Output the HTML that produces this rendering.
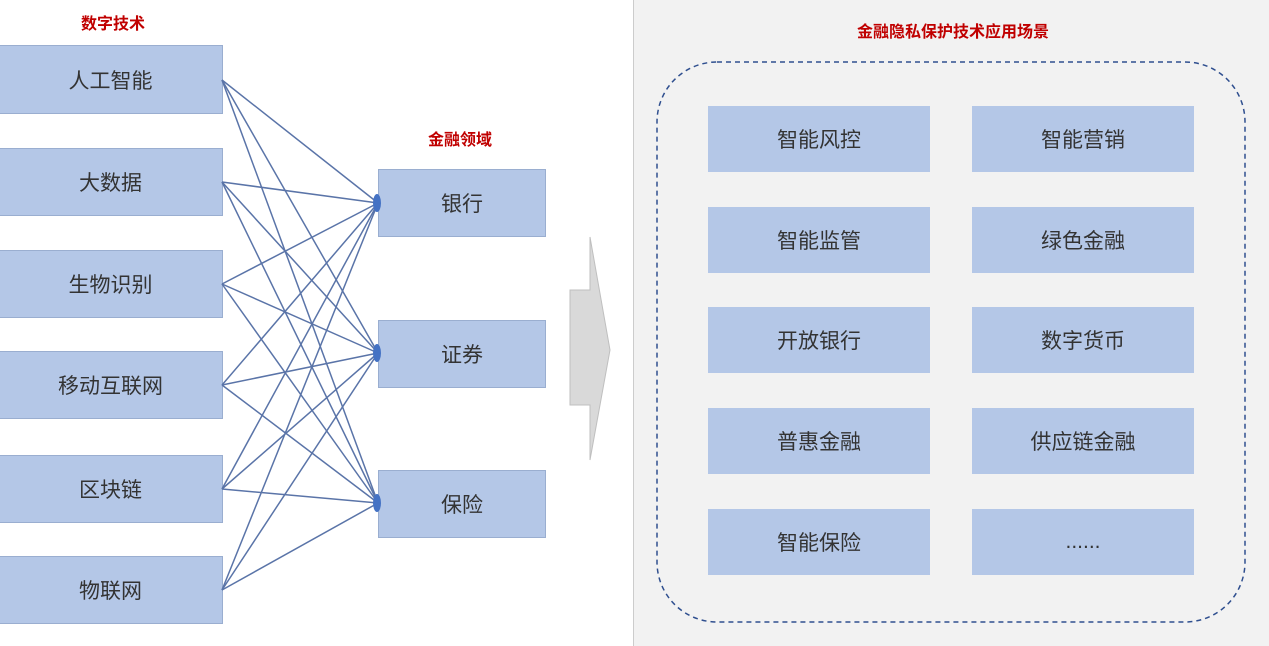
<!DOCTYPE html>
<html><head><meta charset="utf-8"><style>
body{margin:0;width:1269px;height:646px;background:#fff;position:relative;overflow:hidden;font-family:"Liberation Sans","Noto Sans CJK SC",sans-serif}
.b{position:absolute;background:#b4c7e7;border:1px solid #9aaed0;box-sizing:border-box;display:flex;align-items:center;justify-content:center;font-size:21px;color:#333}
.g{position:absolute;background:#b4c7e7;display:flex;align-items:center;justify-content:center;font-size:21px;color:#333;width:222px;height:66px}
.t{position:absolute;color:#c00000;font-weight:bold;font-size:16px;transform:translateX(-50%);white-space:nowrap}
</style></head><body>
<div style="position:absolute;left:633px;top:0;width:636px;height:646px;background:#f2f2f2;border-left:1px solid #ccc"></div>
<div class="t" style="left:113px;top:10px">数字技术</div>
<div class="t" style="left:460px;top:126px">金融领域</div>
<div class="t" style="left:953px;top:18px">金融隐私保护技术应用场景</div>
<div class="b" style="left:-2px;top:45px;width:225px;height:69px">人工智能</div>
<div class="b" style="left:-2px;top:148px;width:225px;height:68px">大数据</div>
<div class="b" style="left:-2px;top:250px;width:225px;height:68px">生物识别</div>
<div class="b" style="left:-2px;top:351px;width:225px;height:68px">移动互联网</div>
<div class="b" style="left:-2px;top:455px;width:225px;height:68px">区块链</div>
<div class="b" style="left:-2px;top:556px;width:225px;height:68px">物联网</div>
<div class="b" style="left:378px;top:169px;width:168px;height:68px">银行</div>
<div class="b" style="left:378px;top:320px;width:168px;height:68px">证券</div>
<div class="b" style="left:378px;top:470px;width:168px;height:68px">保险</div>
<svg style="position:absolute;left:0;top:0" width="1269" height="646">
<g stroke="#5a74a8" stroke-width="1.5">
<line x1="222" y1="80" x2="378" y2="203"/><line x1="222" y1="80" x2="378" y2="353"/><line x1="222" y1="80" x2="378" y2="503"/>
<line x1="222" y1="182" x2="378" y2="203"/><line x1="222" y1="182" x2="378" y2="353"/><line x1="222" y1="182" x2="378" y2="503"/>
<line x1="222" y1="284" x2="378" y2="203"/><line x1="222" y1="284" x2="378" y2="353"/><line x1="222" y1="284" x2="378" y2="503"/>
<line x1="222" y1="385" x2="378" y2="203"/><line x1="222" y1="385" x2="378" y2="353"/><line x1="222" y1="385" x2="378" y2="503"/>
<line x1="222" y1="489" x2="378" y2="203"/><line x1="222" y1="489" x2="378" y2="353"/><line x1="222" y1="489" x2="378" y2="503"/>
<line x1="222" y1="590" x2="378" y2="203"/><line x1="222" y1="590" x2="378" y2="353"/><line x1="222" y1="590" x2="378" y2="503"/>
</g>
<g fill="#4472c4"><ellipse cx="377" cy="203" rx="4" ry="9"/><ellipse cx="377" cy="353" rx="4" ry="9"/><ellipse cx="377" cy="503" rx="4" ry="9"/></g>
<polygon points="570,290 590,290 590,237 610,350 590,460 590,405 570,405" fill="#d9d9d9" stroke="#bfbfbf"/>
<rect x="657" y="62" width="588" height="560" rx="60" fill="none" stroke="#2f4f8f" stroke-width="1.5" stroke-dasharray="5,4"/>
</svg>
<div class="g" style="left:708px;top:106px">智能风控</div><div class="g" style="left:972px;top:106px">智能营销</div>
<div class="g" style="left:708px;top:207px">智能监管</div><div class="g" style="left:972px;top:207px">绿色金融</div>
<div class="g" style="left:708px;top:307px">开放银行</div><div class="g" style="left:972px;top:307px">数字货币</div>
<div class="g" style="left:708px;top:408px">普惠金融</div><div class="g" style="left:972px;top:408px">供应链金融</div>
<div class="g" style="left:708px;top:509px">智能保险</div><div class="g" style="left:972px;top:509px">......</div>
</body></html>
